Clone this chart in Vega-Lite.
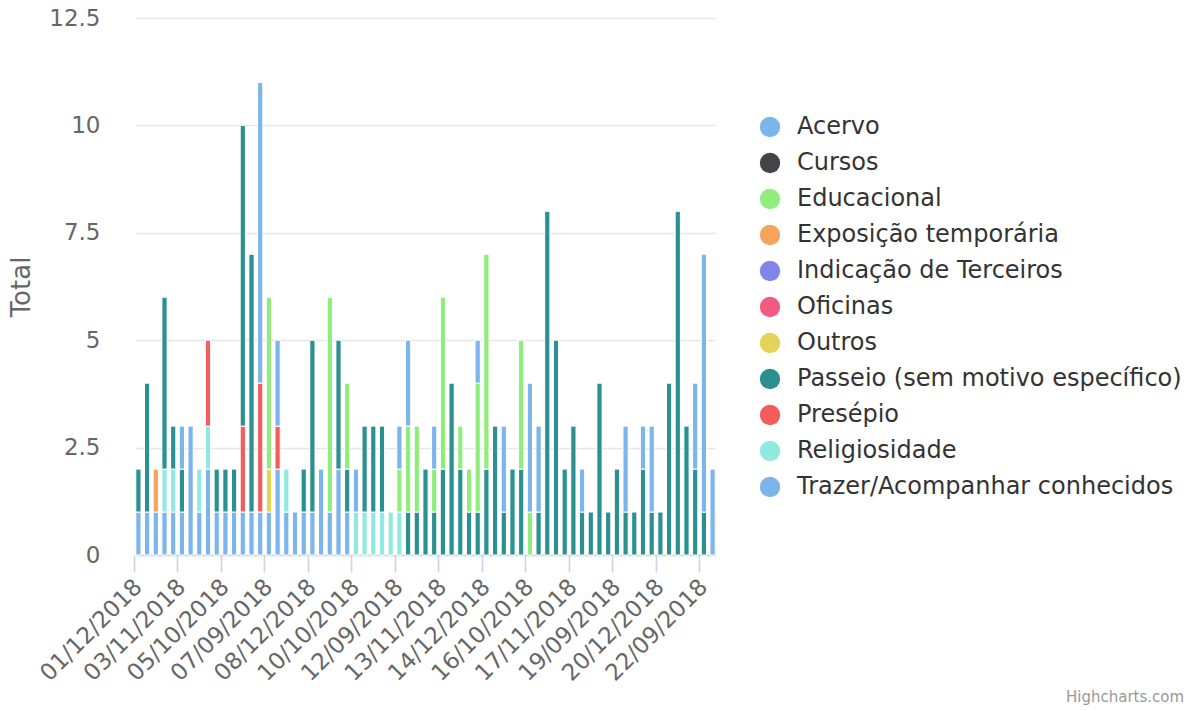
{
"$schema": "https://vega.github.io/schema/vega-lite/v6.json",
"width": 583, "height": 537,
"autosize": {"type": "none"},
"padding": {"left": 130, "top": 18, "right": 474, "bottom": 156},
"background": "#ffffff",
"config": {"view": {"stroke": null}, "font": "DejaVu Sans"},
"title": {"text": "Highcharts.com", "orient": "bottom", "anchor": "start", "frame": "group", "dx": 936, "offset": 5, "fontSize": 15, "color": "#999999", "fontWeight": "normal", "font": "DejaVu Sans"},
"data": {"values": [
{"d":"01/12/2018","m":"Trazer/Acompanhar conhecidos","v":1},{"d":"01/12/2018","m":"Passeio (sem motivo específico)","v":1},
{"d":"02/09/2018","m":"Trazer/Acompanhar conhecidos","v":1},{"d":"02/09/2018","m":"Passeio (sem motivo específico)","v":3},
{"d":"02/10/2018","m":"Trazer/Acompanhar conhecidos","v":1},{"d":"02/10/2018","m":"Exposição temporária","v":1},
{"d":"02/11/2018","m":"Trazer/Acompanhar conhecidos","v":1},{"d":"02/11/2018","m":"Religiosidade","v":1},{"d":"02/11/2018","m":"Passeio (sem motivo específico)","v":4},
{"d":"03/09/2018","m":"Trazer/Acompanhar conhecidos","v":1},{"d":"03/09/2018","m":"Religiosidade","v":1},{"d":"03/09/2018","m":"Passeio (sem motivo específico)","v":1},
{"d":"03/11/2018","m":"Trazer/Acompanhar conhecidos","v":1},{"d":"03/11/2018","m":"Passeio (sem motivo específico)","v":1},{"d":"03/11/2018","m":"Acervo","v":1},
{"d":"03/12/2018","m":"Trazer/Acompanhar conhecidos","v":3},
{"d":"04/09/2018","m":"Trazer/Acompanhar conhecidos","v":1},{"d":"04/09/2018","m":"Religiosidade","v":1},
{"d":"04/10/2018","m":"Trazer/Acompanhar conhecidos","v":2},{"d":"04/10/2018","m":"Religiosidade","v":1},{"d":"04/10/2018","m":"Presépio","v":2},
{"d":"04/12/2018","m":"Trazer/Acompanhar conhecidos","v":1},{"d":"04/12/2018","m":"Passeio (sem motivo específico)","v":1},
{"d":"05/10/2018","m":"Trazer/Acompanhar conhecidos","v":1},{"d":"05/10/2018","m":"Passeio (sem motivo específico)","v":1},
{"d":"05/11/2018","m":"Trazer/Acompanhar conhecidos","v":1},{"d":"05/11/2018","m":"Passeio (sem motivo específico)","v":1},
{"d":"05/12/2018","m":"Trazer/Acompanhar conhecidos","v":1},{"d":"05/12/2018","m":"Presépio","v":2},{"d":"05/12/2018","m":"Passeio (sem motivo específico)","v":7},
{"d":"06/10/2018","m":"Trazer/Acompanhar conhecidos","v":1},{"d":"06/10/2018","m":"Passeio (sem motivo específico)","v":6},
{"d":"06/11/2018","m":"Trazer/Acompanhar conhecidos","v":1},{"d":"06/11/2018","m":"Presépio","v":3},{"d":"06/11/2018","m":"Acervo","v":7},
{"d":"07/09/2018","m":"Trazer/Acompanhar conhecidos","v":1},{"d":"07/09/2018","m":"Outros","v":1},{"d":"07/09/2018","m":"Educacional","v":4},
{"d":"07/10/2018","m":"Trazer/Acompanhar conhecidos","v":2},{"d":"07/10/2018","m":"Presépio","v":1},{"d":"07/10/2018","m":"Acervo","v":2},
{"d":"07/11/2018","m":"Trazer/Acompanhar conhecidos","v":1},{"d":"07/11/2018","m":"Religiosidade","v":1},
{"d":"08/09/2018","m":"Trazer/Acompanhar conhecidos","v":1},
{"d":"08/10/2018","m":"Trazer/Acompanhar conhecidos","v":1},{"d":"08/10/2018","m":"Passeio (sem motivo específico)","v":1},
{"d":"08/12/2018","m":"Trazer/Acompanhar conhecidos","v":1},{"d":"08/12/2018","m":"Passeio (sem motivo específico)","v":4},
{"d":"09/10/2018","m":"Trazer/Acompanhar conhecidos","v":2},
{"d":"09/11/2018","m":"Trazer/Acompanhar conhecidos","v":1},{"d":"09/11/2018","m":"Educacional","v":5},
{"d":"09/12/2018","m":"Trazer/Acompanhar conhecidos","v":2},{"d":"09/12/2018","m":"Passeio (sem motivo específico)","v":3},
{"d":"10/09/2018","m":"Trazer/Acompanhar conhecidos","v":1},{"d":"10/09/2018","m":"Passeio (sem motivo específico)","v":1},{"d":"10/09/2018","m":"Educacional","v":2},
{"d":"10/10/2018","m":"Religiosidade","v":1},{"d":"10/10/2018","m":"Acervo","v":1},
{"d":"10/11/2018","m":"Religiosidade","v":1},{"d":"10/11/2018","m":"Passeio (sem motivo específico)","v":2},
{"d":"11/09/2018","m":"Religiosidade","v":1},{"d":"11/09/2018","m":"Passeio (sem motivo específico)","v":2},
{"d":"11/10/2018","m":"Religiosidade","v":1},{"d":"11/10/2018","m":"Passeio (sem motivo específico)","v":2},
{"d":"11/12/2018","m":"Religiosidade","v":1},
{"d":"12/09/2018","m":"Religiosidade","v":1},{"d":"12/09/2018","m":"Educacional","v":1},{"d":"12/09/2018","m":"Acervo","v":1},
{"d":"12/10/2018","m":"Passeio (sem motivo específico)","v":1},{"d":"12/10/2018","m":"Educacional","v":2},{"d":"12/10/2018","m":"Acervo","v":2},
{"d":"12/11/2018","m":"Passeio (sem motivo específico)","v":1},{"d":"12/11/2018","m":"Educacional","v":2},
{"d":"13/09/2018","m":"Passeio (sem motivo específico)","v":2},
{"d":"13/10/2018","m":"Passeio (sem motivo específico)","v":1},{"d":"13/10/2018","m":"Educacional","v":1},{"d":"13/10/2018","m":"Acervo","v":1},
{"d":"13/11/2018","m":"Passeio (sem motivo específico)","v":2},{"d":"13/11/2018","m":"Educacional","v":4},
{"d":"13/12/2018","m":"Passeio (sem motivo específico)","v":4},
{"d":"14/09/2018","m":"Passeio (sem motivo específico)","v":2},{"d":"14/09/2018","m":"Educacional","v":1},
{"d":"14/10/2018","m":"Passeio (sem motivo específico)","v":1},{"d":"14/10/2018","m":"Educacional","v":1},
{"d":"14/11/2018","m":"Passeio (sem motivo específico)","v":1},{"d":"14/11/2018","m":"Educacional","v":3},{"d":"14/11/2018","m":"Acervo","v":1},
{"d":"14/12/2018","m":"Passeio (sem motivo específico)","v":2},{"d":"14/12/2018","m":"Educacional","v":5},
{"d":"15/09/2018","m":"Passeio (sem motivo específico)","v":3},
{"d":"15/10/2018","m":"Passeio (sem motivo específico)","v":1},{"d":"15/10/2018","m":"Acervo","v":2},
{"d":"15/11/2018","m":"Passeio (sem motivo específico)","v":2},
{"d":"16/09/2018","m":"Passeio (sem motivo específico)","v":2},{"d":"16/09/2018","m":"Educacional","v":3},
{"d":"16/10/2018","m":"Educacional","v":1},{"d":"16/10/2018","m":"Acervo","v":3},
{"d":"16/11/2018","m":"Passeio (sem motivo específico)","v":1},{"d":"16/11/2018","m":"Acervo","v":2},
{"d":"16/12/2018","m":"Passeio (sem motivo específico)","v":8},
{"d":"17/09/2018","m":"Passeio (sem motivo específico)","v":5},
{"d":"17/10/2018","m":"Passeio (sem motivo específico)","v":2},
{"d":"17/11/2018","m":"Passeio (sem motivo específico)","v":3},
{"d":"17/12/2018","m":"Passeio (sem motivo específico)","v":1},{"d":"17/12/2018","m":"Acervo","v":1},
{"d":"18/09/2018","m":"Passeio (sem motivo específico)","v":1},
{"d":"18/10/2018","m":"Passeio (sem motivo específico)","v":4},
{"d":"18/11/2018","m":"Passeio (sem motivo específico)","v":1},
{"d":"19/09/2018","m":"Passeio (sem motivo específico)","v":2},
{"d":"19/10/2018","m":"Passeio (sem motivo específico)","v":1},{"d":"19/10/2018","m":"Acervo","v":2},
{"d":"19/11/2018","m":"Passeio (sem motivo específico)","v":1},
{"d":"20/09/2018","m":"Passeio (sem motivo específico)","v":2},{"d":"20/09/2018","m":"Acervo","v":1},
{"d":"20/10/2018","m":"Passeio (sem motivo específico)","v":1},{"d":"20/10/2018","m":"Acervo","v":2},
{"d":"20/12/2018","m":"Passeio (sem motivo específico)","v":1},
{"d":"21/09/2018","m":"Passeio (sem motivo específico)","v":4},
{"d":"21/10/2018","m":"Passeio (sem motivo específico)","v":8},
{"d":"21/11/2018","m":"Passeio (sem motivo específico)","v":3},
{"d":"21/12/2018","m":"Passeio (sem motivo específico)","v":2},{"d":"21/12/2018","m":"Acervo","v":2},
{"d":"22/09/2018","m":"Passeio (sem motivo específico)","v":1},{"d":"22/09/2018","m":"Acervo","v":6},
{"d":"22/10/2018","m":"Trazer/Acompanhar conhecidos","v":2}
]},
"mark": {"type": "bar", "stroke": "#ffffff", "strokeWidth": 1},
"encoding": {
"x": {"field": "d", "type": "nominal", "sort": null,
 "scale": {"range": [5.8, 585.2], "paddingInner": 0.4, "paddingOuter": 0},
 "axis": {"title": null, "values": ["01/12/2018","03/11/2018","05/10/2018","07/09/2018","08/12/2018","10/10/2018","12/09/2018","13/11/2018","14/12/2018","16/10/2018","17/11/2018","19/09/2018","20/12/2018","22/09/2018"],
  "labelAngle": -45, "labelAlign": "right", "labelBaseline": "middle", "labelFontSize": 23, "labelColor": "#666666", "labelPadding": 11, "labelOverlap": false, "labelFont": "DejaVu Sans",
  "tickSize": 17, "tickColor": "#ccd6eb", "tickWidth": 1.7, "domainColor": "#ccd6eb", "domainWidth": 1.7, "bandPosition": -0.333, "grid": false}},
"y": {"field": "v", "type": "quantitative", "stack": "zero",
 "scale": {"domain": [0, 12.5], "nice": false},
 "axis": {"title": "Total", "values": [0, 2.5, 5, 7.5, 10, 12.5], "format": ".1~f", "grid": true, "gridColor": "#e6e6e6", "gridWidth": 1.7, "domain": false, "ticks": false,
  "labelPadding": 30, "labelFontSize": 23, "labelColor": "#666666", "labelFont": "DejaVu Sans",
  "titleColor": "#666666", "titleFontSize": 26, "titleFontWeight": "normal", "titleFont": "DejaVu Sans", "titlePadding": 14}},
"color": {"field": "m", "type": "nominal",
 "scale": {"domain": ["Acervo","Cursos","Educacional","Exposição temporária","Indicação de Terceiros","Oficinas","Outros","Passeio (sem motivo específico)","Presépio","Religiosidade","Trazer/Acompanhar conhecidos"],
  "range": ["#7cb5ec","#434348","#90ed7d","#f7a35c","#8085e9","#f15c80","#e4d354","#2b908f","#f45b5b","#91e8e1","#7cb5ec"]},
 "legend": {"title": null, "orient": "none", "legendX": 628, "legendY": 97, "symbolType": "circle", "symbolSize": 415, "symbolStrokeWidth": 0,
  "labelFontSize": 24, "labelColor": "#333333", "labelOffset": 15, "rowPadding": 12, "labelLimit": 500, "labelFont": "DejaVu Sans"}}
}
}
